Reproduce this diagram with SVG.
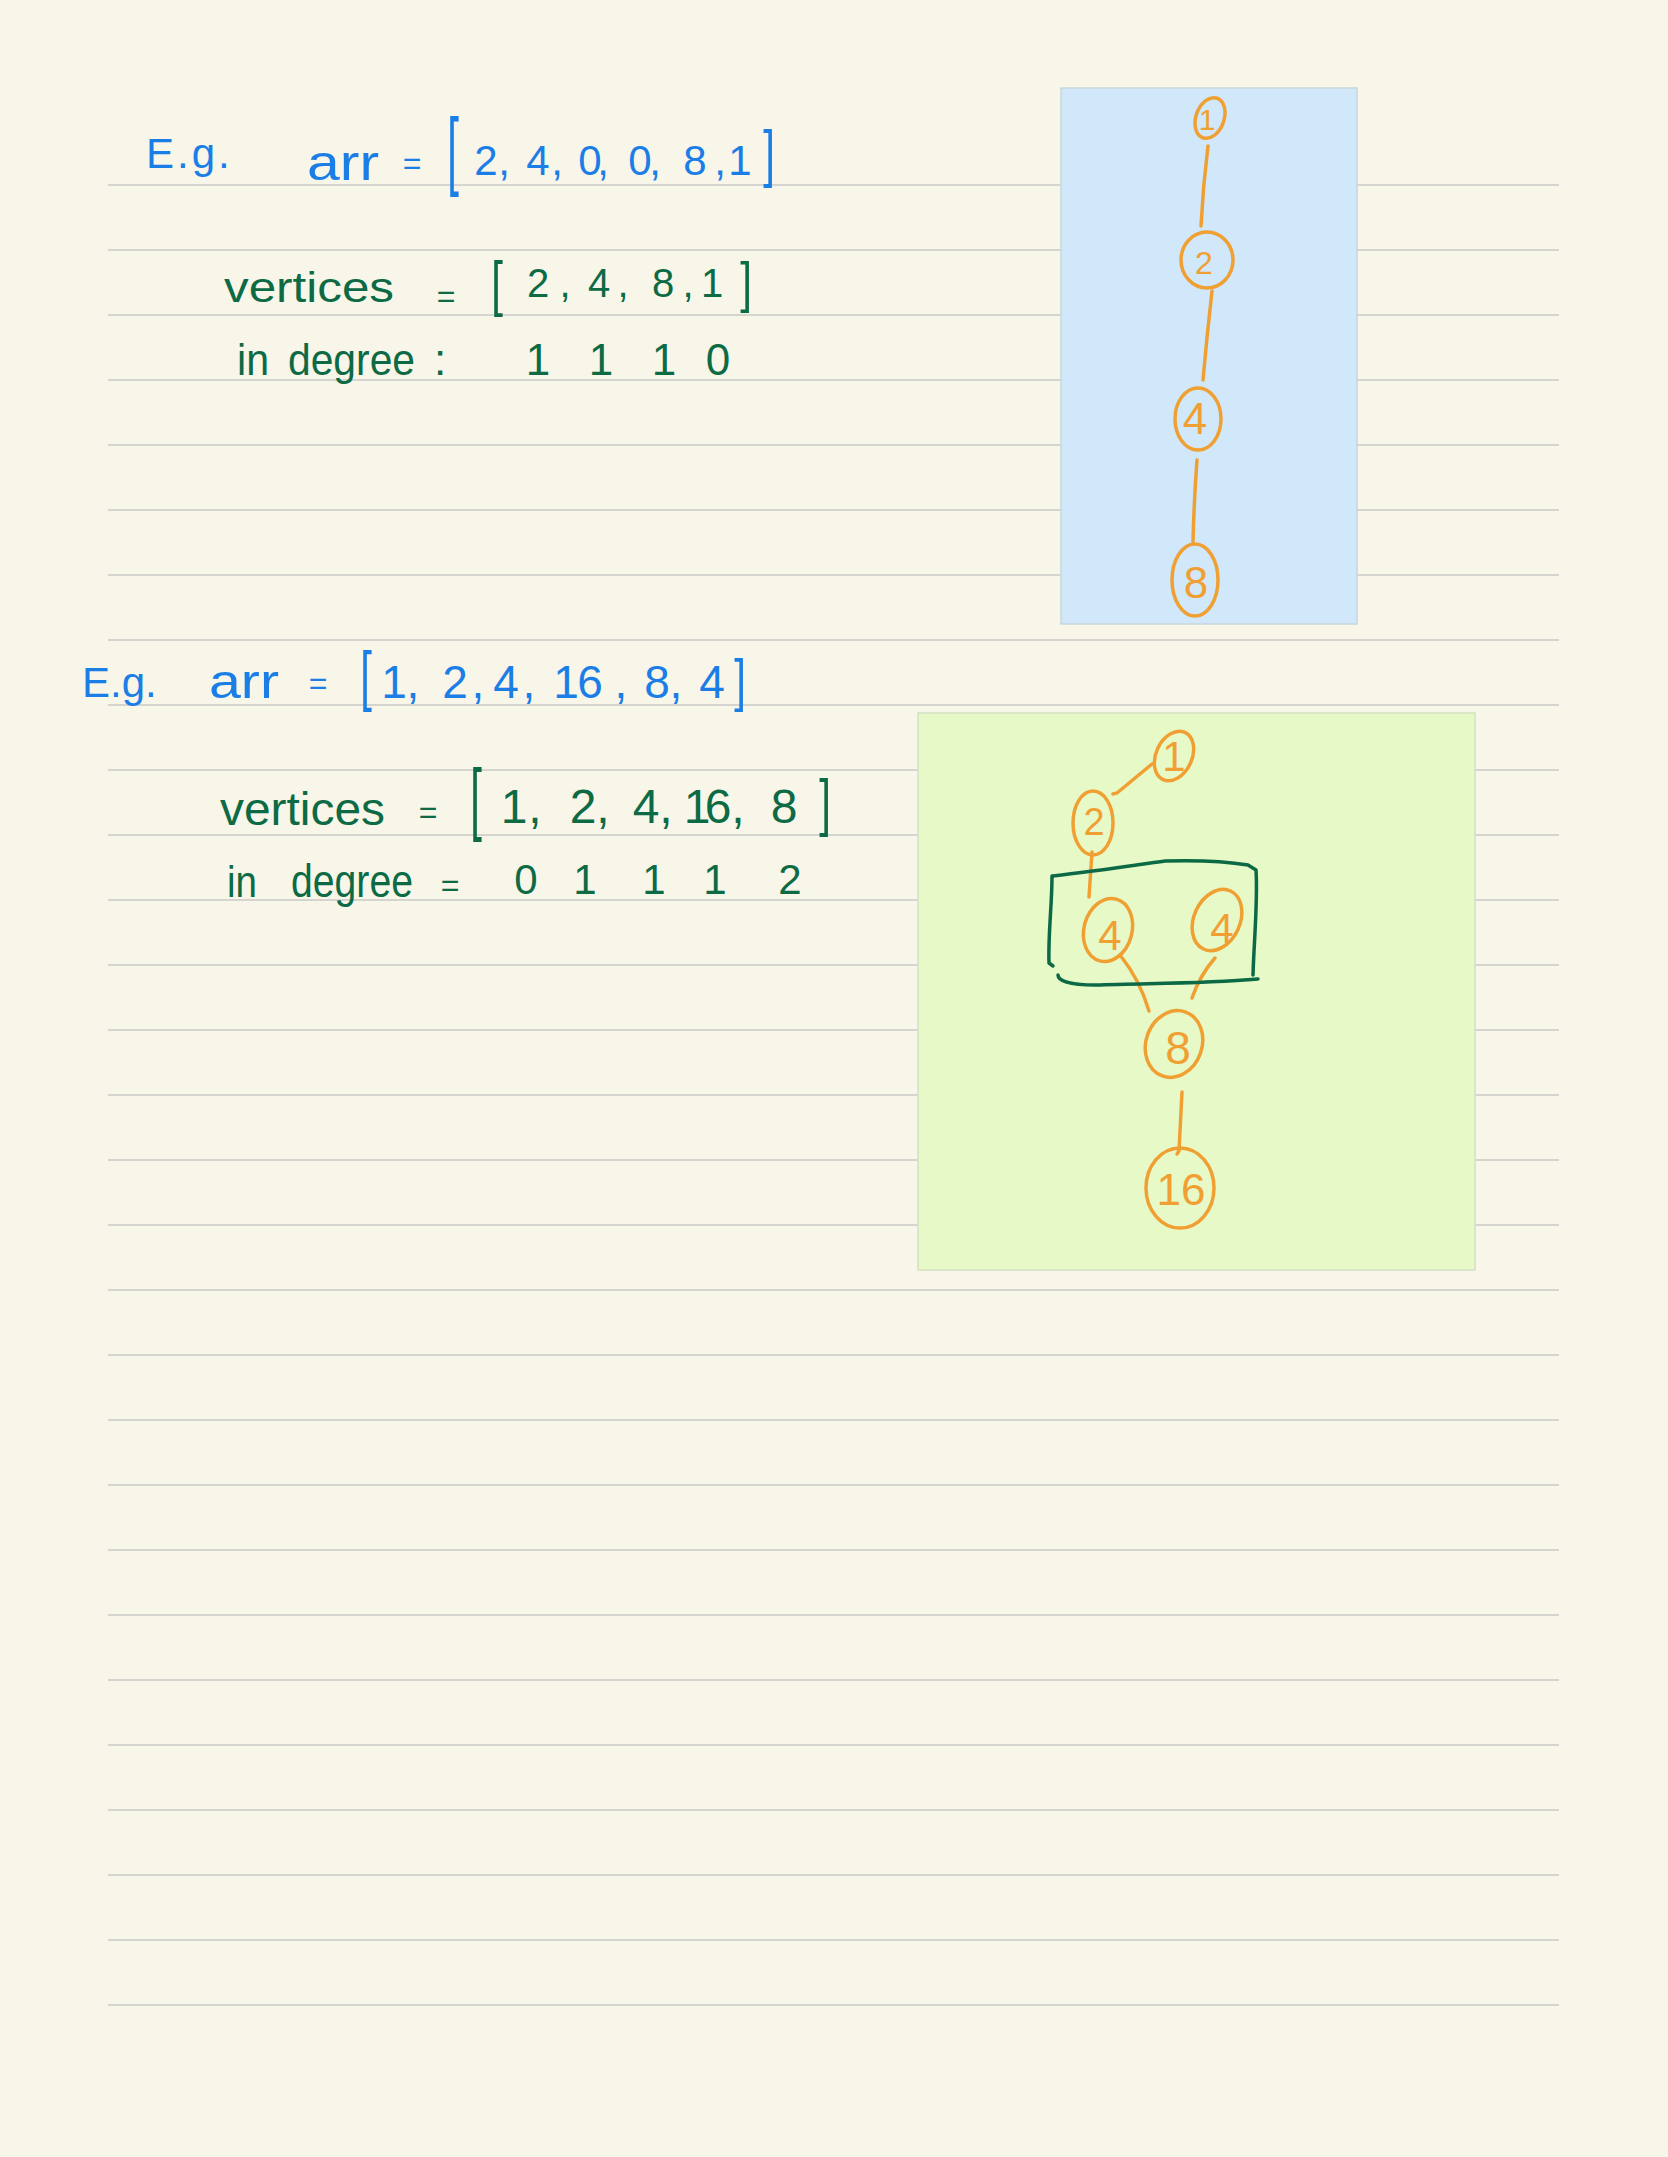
<svg xmlns="http://www.w3.org/2000/svg" width="1668" height="2157" viewBox="0 0 1668 2157">
<style>
.rule{stroke:#d6d4cf;stroke-width:2}
.bt{fill:#1b7ee6;font-family:"Liberation Sans",Arial,sans-serif}
.gt{fill:#0c6a45;font-family:"Liberation Sans",Arial,sans-serif}
.mid{text-anchor:middle}
.nd{fill:none;stroke:#f0a032;stroke-width:3.5}
.nl{fill:#f0a032;font-family:"Liberation Sans",Arial,sans-serif;text-anchor:middle}
.edge{fill:none;stroke:#f0a032;stroke-width:3.5;stroke-linecap:round}
.box{fill:none;stroke:#0b6a45;stroke-width:3.5;stroke-linecap:round;stroke-linejoin:round}
</style>
<rect width="1668" height="2157" fill="#f8f5e9"/>
<g id="rules">
<line class="rule" x1="108" y1="185" x2="1559" y2="185"/>
<line class="rule" x1="108" y1="250" x2="1559" y2="250"/>
<line class="rule" x1="108" y1="315" x2="1559" y2="315"/>
<line class="rule" x1="108" y1="380" x2="1559" y2="380"/>
<line class="rule" x1="108" y1="445" x2="1559" y2="445"/>
<line class="rule" x1="108" y1="510" x2="1559" y2="510"/>
<line class="rule" x1="108" y1="575" x2="1559" y2="575"/>
<line class="rule" x1="108" y1="640" x2="1559" y2="640"/>
<line class="rule" x1="108" y1="705" x2="1559" y2="705"/>
<line class="rule" x1="108" y1="770" x2="1559" y2="770"/>
<line class="rule" x1="108" y1="835" x2="1559" y2="835"/>
<line class="rule" x1="108" y1="900" x2="1559" y2="900"/>
<line class="rule" x1="108" y1="965" x2="1559" y2="965"/>
<line class="rule" x1="108" y1="1030" x2="1559" y2="1030"/>
<line class="rule" x1="108" y1="1095" x2="1559" y2="1095"/>
<line class="rule" x1="108" y1="1160" x2="1559" y2="1160"/>
<line class="rule" x1="108" y1="1225" x2="1559" y2="1225"/>
<line class="rule" x1="108" y1="1290" x2="1559" y2="1290"/>
<line class="rule" x1="108" y1="1355" x2="1559" y2="1355"/>
<line class="rule" x1="108" y1="1420" x2="1559" y2="1420"/>
<line class="rule" x1="108" y1="1485" x2="1559" y2="1485"/>
<line class="rule" x1="108" y1="1550" x2="1559" y2="1550"/>
<line class="rule" x1="108" y1="1615" x2="1559" y2="1615"/>
<line class="rule" x1="108" y1="1680" x2="1559" y2="1680"/>
<line class="rule" x1="108" y1="1745" x2="1559" y2="1745"/>
<line class="rule" x1="108" y1="1810" x2="1559" y2="1810"/>
<line class="rule" x1="108" y1="1875" x2="1559" y2="1875"/>
<line class="rule" x1="108" y1="1940" x2="1559" y2="1940"/>
<line class="rule" x1="108" y1="2005" x2="1559" y2="2005"/>
</g>
<g id="panels">
<rect id="panel-blue" x="1061" y="88" width="296" height="536" fill="#d0e8fa" stroke="#c8d6dc" stroke-width="1.5"/>
<rect id="panel-green" x="918" y="713" width="557" height="557" fill="#e8f9c8" stroke="#d4dfc2" stroke-width="1.5"/>
</g>
<g id="example1">
<text class="bt" x="146" y="168" font-size="42" letter-spacing="3">E.g.</text>
<text class="bt" x="307" y="180" font-size="50" textLength="72" lengthAdjust="spacingAndGlyphs">arr</text>
<text class="bt mid" x="412" y="174" font-size="32">=</text>
<text class="bt mid" transform="translate(453,178.8) scale(1,2.08)" font-size="42">[</text>
<text class="bt mid" y="175" font-size="42" x="486 504 538 557 590 603 640 655 695 720 740">2,4,0,0,8,1</text>
<text class="bt mid" transform="translate(769,174.6) scale(1,1.52)" font-size="42">]</text>
<text class="gt" x="224" y="302" font-size="42" textLength="170" lengthAdjust="spacingAndGlyphs">vertices</text>
<text class="gt mid" x="446" y="307" font-size="32">=</text>
<text class="gt mid" transform="translate(497,304.3) scale(1,1.44)" font-size="42">[</text>
<text class="gt mid" y="297" font-size="40" x="538 565 599 623 663 688 712">2,4,8,1</text>
<text class="gt mid" transform="translate(746,301.2) scale(1,1.34)" font-size="42">]</text>
<text class="gt" x="237" y="375" font-size="44" textLength="32" lengthAdjust="spacingAndGlyphs">in</text>
<text class="gt" x="288" y="375" font-size="44" textLength="127" lengthAdjust="spacingAndGlyphs">degree</text>
<text class="gt" x="434" y="375" font-size="44">:</text>
<text class="gt mid" y="375" font-size="44" x="538 601 664 718">1110</text>
</g>
<g id="example2">
<text class="bt" x="82" y="697" font-size="42">E.g.</text>
<text class="bt" x="209" y="698" font-size="48" textLength="70" lengthAdjust="spacingAndGlyphs">arr</text>
<text class="bt mid" x="318" y="694" font-size="32">=</text>
<text class="bt mid" transform="translate(366,698.2) scale(1,1.57)" font-size="42">[</text>
<text class="bt mid" y="698" font-size="46" x="394 413 455 478 506 529 566 590 621 657 676 712">1,2,4,16,8,4</text>
<text class="bt mid" transform="translate(740,700) scale(1,1.37)" font-size="42">]</text>
<text class="gt" x="220" y="825" font-size="46" textLength="165" lengthAdjust="spacingAndGlyphs">vertices</text>
<text class="gt mid" x="428" y="823" font-size="32">=</text>
<text class="gt mid" transform="translate(476,825.3) scale(1,1.9)" font-size="42">[</text>
<text class="gt mid" y="823" font-size="48" x="514 535 583 603 646 666 697 718 738 784">1,2,4,16,8</text>
<text class="gt mid" transform="translate(825,823.7) scale(1,1.52)" font-size="42">]</text>
<text class="gt" x="227" y="897" font-size="44" textLength="30" lengthAdjust="spacingAndGlyphs">in</text>
<text class="gt" x="291" y="897" font-size="46" textLength="122" lengthAdjust="spacingAndGlyphs">degree</text>
<text class="gt mid" x="450" y="896" font-size="32">=</text>
<text class="gt mid" y="894" font-size="42" x="526 585 654 715 790">01112</text>
</g>
<g id="connectors">
<path class="edge" d="M1208,146 Q1203,186 1201,226"/>
<path class="edge" d="M1212,291 Q1207,335 1203,380"/>
<path class="edge" d="M1197,460 Q1194,500 1193,542"/>
<path class="edge" d="M1152,764 L1117,793 l-4,1"/>
<path class="edge" d="M1092,852 L1089,897"/>
<path class="edge" d="M1120,955 Q1140,980 1149,1011"/>
<path class="edge" d="M1215,958 Q1200,975 1192,998"/>
<path class="edge" d="M1182,1092 L1179,1151 l-2,3"/>
</g>
<g id="node-b1"><ellipse class="nd" cx="1210" cy="118" rx="14" ry="21" transform="rotate(20 1210 118)"/><text class="nl" x="1207" y="130" font-size="30">1</text></g>
<g id="node-b2"><ellipse class="nd" cx="1207" cy="260" rx="26" ry="28"/><text class="nl" x="1204" y="274" font-size="32">2</text></g>
<g id="node-b4"><ellipse class="nd" cx="1198" cy="419" rx="23" ry="31"/><text class="nl" x="1195" y="434" font-size="44">4</text></g>
<g id="node-b8"><ellipse class="nd" cx="1195" cy="580" rx="23" ry="36"/><text class="nl" x="1196" y="598" font-size="44">8</text></g>
<g id="node-g1"><ellipse class="nd" cx="1174" cy="756" rx="18" ry="26" transform="rotate(25 1174 756)"/><text class="nl" x="1174" y="771" font-size="42">1</text></g>
<g id="node-g2"><ellipse class="nd" cx="1093" cy="823" rx="20" ry="32"/><text class="nl" x="1094" y="835" font-size="38">2</text></g>
<g id="group-box"><path class="box" d="M1053,876 C1090,872 1130,866 1165,861 C1200,860 1230,862 1248,865 L1256,870 C1258,900 1254,940 1253,975"/><path class="box" d="M1052,876 C1052,905 1048,935 1049,963 L1053,966"/><path class="box" d="M1058,975 C1058,982 1075,985 1095,985 C1150,983 1200,984 1258,979"/></g>
<g id="node-g4a"><ellipse class="nd" cx="1108" cy="930" rx="24" ry="32" transform="rotate(15 1108 930)"/><text class="nl" x="1110" y="950" font-size="42">4</text></g>
<g id="node-g4b"><ellipse class="nd" cx="1217" cy="920" rx="23" ry="32" transform="rotate(25 1217 920)"/><text class="nl" x="1222" y="943" font-size="42">4</text></g>
<g id="node-g8"><ellipse class="nd" cx="1174" cy="1044" rx="28" ry="34" transform="rotate(20 1174 1044)"/><text class="nl" x="1178" y="1064" font-size="46">8</text></g>
<g id="node-g16"><ellipse class="nd" cx="1180" cy="1188" rx="34" ry="40"/><text class="nl" x="1181" y="1205" font-size="44">16</text></g>
</svg>
